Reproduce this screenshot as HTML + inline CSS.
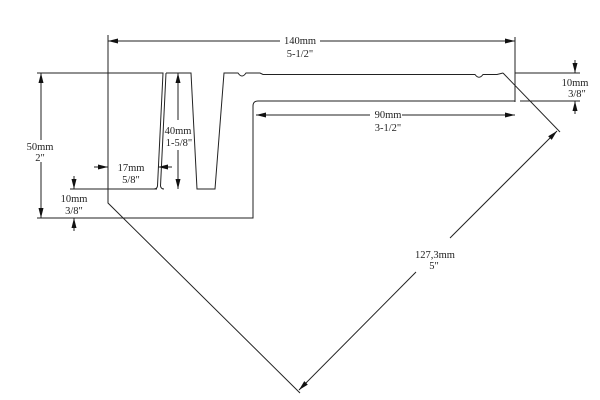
<!DOCTYPE html>
<html><head><meta charset="utf-8"><style>
html,body{margin:0;padding:0;background:#fff;}
svg{display:block;}
text{font-family:"Liberation Serif",serif;font-size:10.5px;fill:#222;text-anchor:middle;}
</style></head><body>
<svg width="600" height="400" viewBox="0 0 600 400" xmlns="http://www.w3.org/2000/svg">
<defs>
<marker id="a" markerWidth="10" markerHeight="6" refX="10" refY="3" orient="auto" markerUnits="userSpaceOnUse">
<path d="M0,0.5 L10,3 L0,5.5 Z" fill="#111"/></marker>
</defs>
<g stroke="#222" stroke-width="1" fill="none">
<!-- profile -->
<path d="M37,73 H163 L157.5,186 Q157,189 154,189 H73"/>
<path d="M166,73 L160.5,186 Q161,189 164,189 M166,73 H191 L197,189 H215 L224,73 H238 Q242,79 246,73 H260 L263,74.5 H475 Q479,80 483,74.5 H497 L503,73"/>
<path d="M37,218 H253 V106 Q253,101 258,101 H515"/>
<!-- left construction / 127 extension -->
<path d="M108,35 V203 L300,393"/>
<path d="M503,73 L560,132"/>
<path d="M515,37 V102"/>
<!-- right 10mm ext -->
<path d="M515,73 H580 M520,101 H580"/>
<!-- left 10mm ext -->
<path d="M70,189 H157"/>
</g>
<g stroke="#222" stroke-width="1" fill="none">
<!-- 140 -->
<line x1="280" y1="41" x2="108" y2="41" marker-end="url(#a)"/>
<line x1="320" y1="41" x2="515" y2="41" marker-end="url(#a)"/>
<!-- 90 -->
<line x1="370" y1="115" x2="256" y2="115" marker-end="url(#a)"/>
<line x1="402" y1="115" x2="515" y2="115" marker-end="url(#a)"/>
<!-- 50 -->
<line x1="41" y1="140" x2="41" y2="73" marker-end="url(#a)"/>
<line x1="41" y1="162" x2="41" y2="218" marker-end="url(#a)"/>
<!-- 40 -->
<line x1="178" y1="120" x2="178" y2="73" marker-end="url(#a)"/>
<line x1="178" y1="150" x2="178" y2="189" marker-end="url(#a)"/>
<!-- 17 -->
<line x1="94" y1="167" x2="108" y2="167" marker-end="url(#a)"/>
<line x1="172" y1="167" x2="158" y2="167" marker-end="url(#a)"/>
<!-- left 10 -->
<line x1="74" y1="176" x2="74" y2="189" marker-end="url(#a)"/>
<line x1="74" y1="231" x2="74" y2="218" marker-end="url(#a)"/>
<!-- right 10 -->
<line x1="575" y1="60" x2="575" y2="73" marker-end="url(#a)"/>
<line x1="575" y1="114" x2="575" y2="101" marker-end="url(#a)"/>
<!-- 127.3 -->
<line x1="416" y1="272" x2="299" y2="390" marker-end="url(#a)"/>
<line x1="450" y1="238" x2="557" y2="131" marker-end="url(#a)"/>
</g>
<text x="300" y="44">140mm</text>
<text x="300" y="57">5-1/2"</text>
<text x="388" y="118">90mm</text>
<text x="388" y="131">3-1/2"</text>
<text x="40" y="150">50mm</text>
<text x="40" y="161">2"</text>
<text x="178" y="134">40mm</text>
<text x="179" y="146">1-5/8"</text>
<text x="131" y="171">17mm</text>
<text x="131" y="183">5/8"</text>
<text x="74" y="202">10mm</text>
<text x="74" y="214">3/8"</text>
<text x="575" y="86">10mm</text>
<text x="577" y="97">3/8"</text>
<text x="435" y="258">127,3mm</text>
<text x="434" y="269">5"</text>
</svg>
</body></html>
